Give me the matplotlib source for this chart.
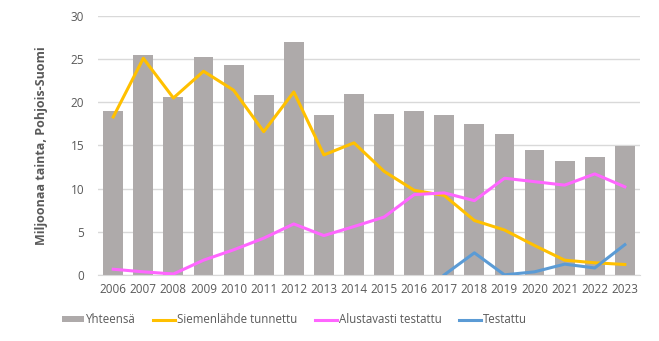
import numpy as np
import matplotlib.pyplot as plt

years = list(range(2006, 2024))
yhteensa = [19.0, 25.5, 20.6, 25.3, 24.3, 20.9, 27.0, 18.5, 21.0,
            18.7, 19.0, 18.5, 17.5, 16.3, 14.5, 13.2, 13.7, 14.9]
siemenlahde = [18.3, 25.1, 20.5, 23.6, 21.4, 16.6, 21.2, 13.9, 15.3,
               12.0, 9.8, 9.2, 6.3, 5.2, 3.4, 1.7, 1.4, 1.2]
alustavasti = [0.65, 0.35, 0.1, 1.7, 2.9, 4.25, 5.9, 4.55, 5.6,
               6.7, 9.3, 9.5, 8.6, 11.2, 10.8, 10.4, 11.7, 10.2]
testattu_years = [2017, 2018, 2019, 2020, 2021, 2022, 2023]
testattu = [0.0, 2.55, 0.0, 0.35, 1.24, 0.8, 3.5]

txt = '#595959'
plt.rcParams['font.family'] = ['Open Sans', 'DejaVu Sans']

fig = plt.figure(figsize=(6.59, 3.41), dpi=100)
ax = fig.add_axes([0.149, 0.194, 0.822, 0.759])

x = np.arange(len(years))
b = ax.bar(x, yhteensa, width=0.66, color='#AEAAAA', label='Yhteensä', zorder=2)
l1, = ax.plot(x, siemenlahde, color='#FFC000', lw=2.2, label='Siemenlähde tunnettu', zorder=3)
l2, = ax.plot(x, alustavasti, color='#FF66FF', lw=2.2, label='Alustavasti testattu', zorder=3)
tx = [years.index(y) for y in testattu_years]
l3, = ax.plot(tx, testattu, color='#5B9BD5', lw=2.2, label='Testattu', zorder=3)

ax.set_xlim(-0.5, len(years) - 0.5)
ax.set_ylim(0, 30)
ax.set_yticks(range(0, 31, 5))
ax.set_xticks(x)
ax.set_xticklabels([str(y) for y in years])
ax.tick_params(axis='both', length=0, labelsize=8.5, colors=txt)
ax.tick_params(axis='y', pad=10)
ax.tick_params(axis='x', pad=6)
ax.yaxis.grid(True, color='#D9D9D9', lw=1)
ax.set_axisbelow(True)
for s in ['top', 'right', 'left']:
    ax.spines[s].set_visible(False)
ax.spines['bottom'].set_color('#D9D9D9')

ax.set_ylabel('Miljoonaa tainta, Pohjois-Suomi', fontsize=9, fontweight='bold',
              color=txt, labelpad=16)

fig.legend(handles=[b, l1, l2, l3], loc='center left', bbox_to_anchor=(0.078, 0.062),
           ncol=4, frameon=False, fontsize=8.3, labelcolor=txt, handlelength=1.9,
           handleheight=0.45, handletextpad=0.2, columnspacing=1.5)

fig.savefig('out.png', dpi=100)
